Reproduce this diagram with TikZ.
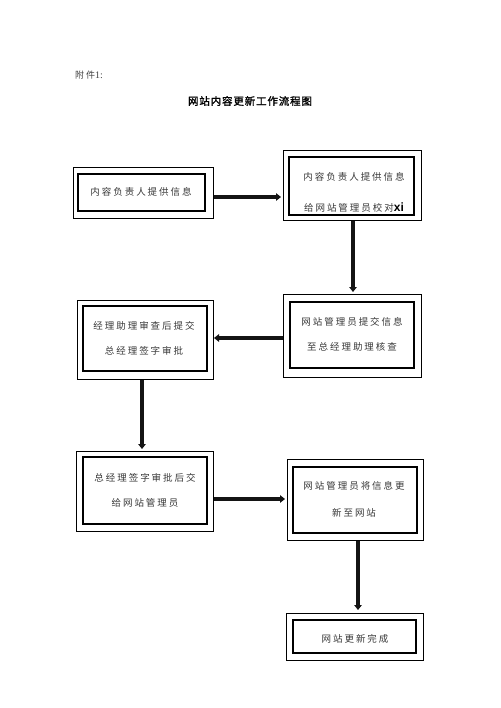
\documentclass[tikz,border=0pt]{standalone}
\usepackage{fontspec}
\usetikzlibrary{arrows.meta,fit}
\newfontfamily\cjk{Noto Sans CJK SC}[LetterSpace=21]
\newfontfamily\cjktitle{Noto Sans CJK SC}[FakeBold=1.5,LetterSpace=8]
\newfontfamily\latinbold{Liberation Sans Bold}
\newfontfamily\latinserif{Liberation Serif}
\begin{document}
\begin{tikzpicture}[x=1pt,y=-1pt,
  outerbox/.style={draw=black,line width=1pt,inner sep=0pt},
  innerbox/.style={draw=black,line width=2.6pt,inner sep=0pt},
  txt/.style={align=center,inner sep=0pt,text=black!78,font=\cjk\fontsize{9.5}{25}\selectfont},
  arr/.style={draw=black!92,line width=3.4pt,-{Triangle[length=5pt,width=7.5pt]},shorten >=1.5pt}]
\fill[white] (0,0) rectangle (500,708);
\useasboundingbox (0,0) rectangle (500,708);
% heading
\node[anchor=west,inner sep=0pt,text=black!75] (att) at (75,75) {\cjk\fontsize{9}{11}\selectfont 附件{\latinserif\fontsize{10}{11}\selectfont 1:}};
\node[inner sep=0pt] (title) at (250,101) {\cjktitle\fontsize{10.5}{12}\selectfont 网站内容更新工作流程图};
% boxes
\node[outerbox,fit={(73,168) (213,219)}] (b1) {};
\node[innerbox,fit={(78,174) (205,211)}] (b1i) {};
\node[outerbox,fit={(283,151) (421,221)}] (b2) {};
\node[innerbox,fit={(289,157) (414,215)}] (b2i) {};
\node[outerbox,fit={(283,294) (421,377)}] (b3) {};
\node[innerbox,fit={(290,302) (414,368)}] (b3i) {};
\node[outerbox,fit={(77,300) (213,379)}] (b4) {};
\node[innerbox,fit={(83,306) (207,371)}] (b4i) {};
\node[outerbox,fit={(76,451) (213,531)}] (b5) {};
\node[innerbox,fit={(83,457) (207,524)}] (b5i) {};
\node[outerbox,fit={(287,459) (423,540)}] (b6) {};
\node[innerbox,fit={(293,467) (417,533)}] (b6i) {};
\node[outerbox,fit={(286,613) (423,660)}] (b7) {};
\node[innerbox,fit={(293,620) (416,653)}] (b7i) {};
% texts
\node[txt] (t1) at (141,192) {内容负责人提供信息};
\node[txt,font=\cjk\fontsize{9.5}{31}\selectfont] (t2) at (354,192) {内容负责人提供信息\\给网站管理员校对{\latinbold\fontsize{12}{31}\selectfont\color{black}xi}};
\node[txt] (t3) at (352,334) {网站管理员提交信息\\至总经理助理核查};
\node[txt] (t4) at (144,338) {经理助理审查后提交\\总经理签字审批};
\node[txt] (t5) at (145,490) {总经理签字审批后交\\给网站管理员};
\node[txt,font=\cjk\fontsize{9.5}{27}\selectfont] (t6) at (354,499) {网站管理员将信息更\\新至网站};
\node[txt] (t7) at (355,639) {网站更新完成};
% connector guides
\coordinate (a1) at (0,197);
\coordinate (a2) at (353,0);
\coordinate (a3) at (0,338);
\coordinate (a4) at (142,0);
\coordinate (a5) at (0,499);
\coordinate (a6) at (358,0);
\draw[arr] (b1.east |- a1) -- (b2.west |- a1);
\draw[arr] (b2.south -| a2) -- (b3.north -| a2);
\draw[arr,shorten >=0.5pt] (b3.west |- a3) -- (b4.east |- a3);
\draw[arr] (b4.south -| a4) -- (b5.north -| a4);
\draw[arr] (b5.east |- a5) -- (b6.west |- a5);
\draw[arr,shorten >=2.5pt] (b6.south -| a6) -- (b7.north -| a6);
\end{tikzpicture}
\end{document}
